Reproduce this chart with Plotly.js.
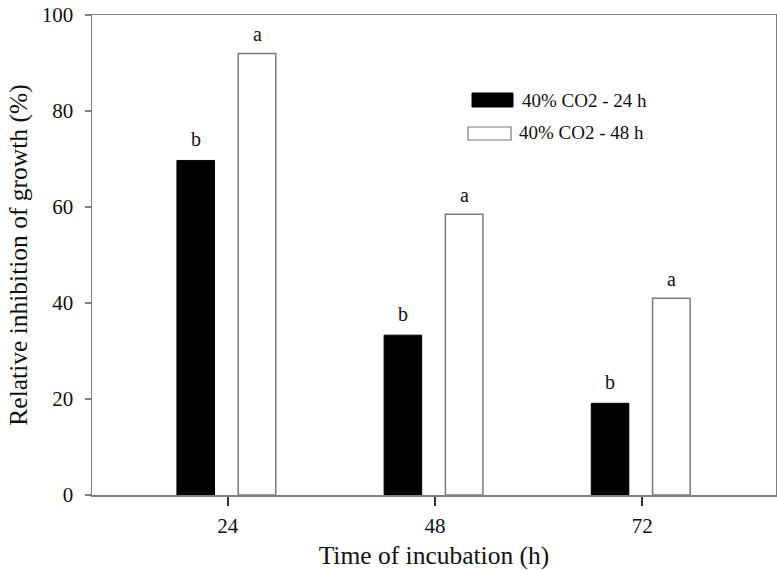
<!DOCTYPE html>
<html>
<head>
<meta charset="utf-8">
<script src="https://cdn.plot.ly/plotly-3.0.1.min.js"></script>
<style>
  html, body { margin: 0; padding: 0; background: #fff; }
  #chart { width: 777px; height: 570px; }
</style>
</head>
<body>
<div id="chart"></div>
<script>
// ---- data ----
const times = [24, 48, 72];
const inhibition24h = [69.7, 33.3, 19.1];
const inhibition48h = [92.0, 58.5, 41.0];
const letters24h = ["b", "b", "b"];
const letters48h = ["a", "a", "a"];
const seriesNames = ["40% CO2 - 24 h", "40% CO2 - 48 h"];
const xTickVals = [24, 48, 72];
const yTickVals = [0, 20, 40, 60, 80, 100];
const xTitle = "Time of incubation (h)";
const yTitle = "Relative inhibition of growth (%)";

// ---- style ----
const FONT = "Liberation Serif, Times New Roman, serif";
const AXIS = "#808080";
const W = 4.35;
const OFF1 = -5.9, OFF2 = 1.2;

const traces = [
  {
    type: "bar", name: seriesNames[0], x: times, y: inhibition24h,
    offset: OFF1, width: W,
    marker: { color: "#000000", line: { color: "#000000", width: 1 } },
    showlegend: false, hoverinfo: "skip"
  },
  {
    type: "bar", name: seriesNames[1], x: times, y: inhibition48h,
    offset: OFF2, width: W,
    marker: { color: "#ffffff", line: { color: "#7a7a7a", width: 1.5 } },
    showlegend: false, hoverinfo: "skip"
  }
];

const annotations = [];
times.forEach((t, i) => {
  annotations.push({ x: t + OFF1 + W / 2, y: inhibition24h[i], xref: "x", yref: "y",
    text: letters24h[i], showarrow: false, yshift: 21, font: { family: FONT, size: 20, color: "#111" } });
  annotations.push({ x: t + OFF2 + W / 2, y: inhibition48h[i], xref: "x", yref: "y",
    text: letters48h[i], showarrow: false, yshift: 19, font: { family: FONT, size: 20, color: "#111" } });
});
// legend text
annotations.push({ x: 0.6257, y: 0.8229, xref: "paper", yref: "paper", xanchor: "left", yanchor: "middle",
  text: seriesNames[0], showarrow: false, font: { family: FONT, size: 19, color: "#111" } });
annotations.push({ x: 0.6213, y: 0.7542, xref: "paper", yref: "paper", xanchor: "left", yanchor: "middle",
  text: seriesNames[1], showarrow: false, font: { family: FONT, size: 19, color: "#111" } });

const shapes = [
  { type: "rect", xref: "paper", yref: "paper", x0: 0.5556, x1: 0.6155, y0: 0.8083, y1: 0.8375,
    fillcolor: "#000", line: { color: "#000", width: 1 } },
  { type: "rect", xref: "paper", yref: "paper", x0: 0.5497, x1: 0.6126, y0: 0.7396, y1: 0.7667,
    fillcolor: "#fff", line: { color: "#7a7a7a", width: 1.2 } }
];

const layout = {
  width: 777, height: 570,
  margin: { l: 92, r: 1, t: 15, b: 75 },
  paper_bgcolor: "#fff", plot_bgcolor: "#fff",
  barmode: "overlay",
  showlegend: false,
  font: { family: FONT, color: "#111" },
  xaxis: {
    range: [8.26, 87.5],
    tickvals: xTickVals, ticktext: xTickVals.map(String),
    ticks: "outside", ticklen: 9, tickwidth: 1.5, tickcolor: "#333",
    showline: true, linecolor: AXIS, linewidth: 1.5, mirror: true,
    showgrid: false, zeroline: false,
    tickfont: { family: FONT, size: 21, color: "#111" },
    ticklabelstandoff: 2,
    title: { text: xTitle, font: { family: FONT, size: 25.5, color: "#111" }, standoff: 19 }
  },
  yaxis: {
    range: [0, 100],
    tickvals: yTickVals,
    ticks: "outside", ticklen: 6, tickwidth: 1.2, tickcolor: AXIS,
    showline: true, linecolor: AXIS, linewidth: 1.5, mirror: true,
    showgrid: false, zeroline: false,
    tickfont: { family: FONT, size: 21, color: "#111" },
    ticklabelstandoff: 7,
    title: { text: yTitle, font: { family: FONT, size: 25.5, color: "#111" }, standoff: 7 }
  },
  annotations: annotations,
  shapes: shapes
};

Plotly.newPlot("chart", traces, layout, { displayModeBar: false, staticPlot: true });
</script>
</body>
</html>
